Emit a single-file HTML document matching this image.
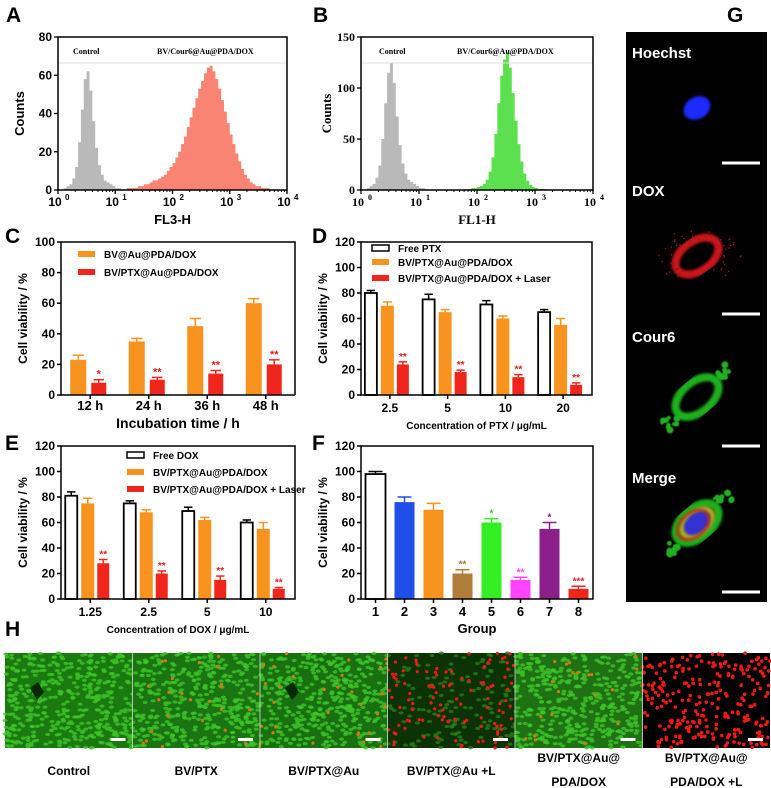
<!DOCTYPE html>
<html><head><meta charset="utf-8">
<style>
html,body{margin:0;padding:0;background:#fff;}
svg{display:block;font-family:"Liberation Sans",Arial,sans-serif;}
</style></head>
<body>
<svg id="fig" width="771" height="788" viewBox="0 0 771 788">
<defs>
<filter id="blur1"><feGaussianBlur stdDeviation="1.2"/></filter>
<filter id="blur2"><feGaussianBlur stdDeviation="0.6"/></filter>
</defs>
</svg>
<script>
// ---------- DATA ----------
const histAGreyStart = 0.1;
const histAGrey = [1,2,3,6,12,25,42,58,62,52,36,22,13,8,5,4,3,2,1,1,0,0,0];
const histARedStart = 1.2;
const histARed = [1,1,1,1,2,2,3,3,4,5,5,6,7,8,10,12,14,17,20,24,28,33,38,43,48,53,57,61,64,65,62,58,53,47,41,35,29,24,19,15,11,8,6,4,3,2,2,1,1,1,0,0,0];
const histBGreyStart = 0.1;
const histBGrey = [2,4,6,12,24,50,85,115,125,105,72,44,26,16,10,8,6,4,2,2,1,0,0];
const histBGreenStart = 1.8;
const histBGreen = [1,1,2,2,3,4,6,10,18,32,55,85,112,128,135,120,95,68,45,28,16,9,5,3,2,1,1,1,0,0,0];
const histBinStep = 0.05;
const logTicks = [0,1,2,3,4];
const histATicks = [0,20,40,60,80];
const histBTicks = [0,50,100,150];

const cCategories = ["12 h","24 h","36 h","48 h"];
const cOrange = [23,35,45,60];
const cOrangeErr = [3,2,5,3];
const cRed = [8,10,14,20];
const cRedErr = [2,1.5,2,3];
const cStars = ["*","**","**","**"];
const cTicks = [0,20,40,60,80,100];

const dCategories = ["2.5","5","10","20"];
const dWhite = [80,75,71,65];
const dWhiteErr = [2,4,3,2];
const dOrange = [70,65,60,55];
const dOrangeErr = [3,2,2,5];
const dRed = [24,18,14,8];
const dRedErr = [2,1.5,2,1.5];
const dStars = ["**","**","**","**"];

const eCategories = ["1.25","2.5","5","10"];
const eWhite = [81,75,69,60];
const eWhiteErr = [3,2,3,2];
const eOrange = [75,68,62,55];
const eOrangeErr = [4,2,2,5];
const eRed = [28,20,15,8];
const eRedErr = [3,2,3,1];
const eStars = ["**","**","**","**"];
const viabTicks = [0,20,40,60,80,100,120];

const fCategories = ["1","2","3","4","5","6","7","8"];
const fValues = [98,76,70,20,60,15,55,8];
const fErr = [2,4,5,3,3,2,5,2];
const fColors = ["#ffffff","#1f4fe8","#f7931e","#b07d3a","#33ee22","#ff44ff","#8b1f8b","#f0261c"];
const fStars = ["","","","**","*","**","*","***"];
const fStarColors = ["#000","#000","#000","#a07a40","#33cc22","#ee44ee","#8b1f8b","#e0201c"];

const ORANGE="#f7931e", RED="#f0261c";

// ---------- helpers ----------
const svg=document.getElementById('fig');
const NS="http://www.w3.org/2000/svg";
function el(tag,attrs,parent){const e=document.createElementNS(NS,tag);for(const k in attrs)e.setAttribute(k,attrs[k]);(parent||svg).appendChild(e);return e;}
function txt(s,x,y,size,anchor,parent,extra){const e=el('text',Object.assign({x:x,y:y,'font-size':size,'text-anchor':anchor||'start','font-weight':'bold'},extra||{}),parent);e.textContent=s;return e;}
function group(name){const g=el('g',{});return g;}

[["A",6,22],["B",313,22],["G",727,22],["C",5,243],["D",312,243],["E",5,450],["F",312,450],["H",5,636]].forEach(p=>{
  const t=txt(p[0],p[1],p[2],21,'start');
  
  
});

// ---------- histograms ----------
function histPanel(name,L,R,T,B,ymax,yticks,series,xtitle,labels,serif){
  const g=group(name);
  const x=v=>L+(v/4)*(R-L);
  const y=v=>B-(v/ymax)*(B-T);
  series.forEach(s=>{
    let d="M"+x(s.start)+","+B;
    s.vals.forEach((v,i)=>{const x0=x(s.start+i*histBinStep),x1=x(s.start+(i+1)*histBinStep);d+=" L"+x0+","+y(v)+" L"+x1+","+y(v);});
    d+=" L"+x(s.start+s.vals.length*histBinStep)+","+B+" Z";
    const p=el('path',{d:d,fill:s.color,stroke:'none'},g);
    
    
  });
  el('line',{x1:L,x2:R,y1:63,y2:63,stroke:'#ddd','stroke-width':1},g);
  el('rect',{x:L,y:T,width:R-L,height:B-T,fill:'none',stroke:'#000','stroke-width':1.5},g);
  const ff=serif?{'font-family':'"Liberation Serif",serif'}:{};
  yticks.forEach(v=>{el('line',{x1:L-4,x2:L,y1:y(v),y2:y(v),stroke:'#000','stroke-width':1.3},g);
    const t=txt(String(v),L-6,y(v)+4,12,'end',g,ff);});
  logTicks.forEach(v=>{el('line',{x1:x(v),x2:x(v),y1:B,y2:B+4,stroke:'#000','stroke-width':1.3},g);
    for(let k=2;k<10&&v<4;k++){const xx=x(v+Math.log10(k));el('line',{x1:xx,x2:xx,y1:B,y2:B+2,stroke:'#000','stroke-width':1},g);}
    const t=txt("10",x(v)-3,B+16,12,'middle',g,ff);
    txt(String(v),x(v)+7,B+10,8,'start',g,ff);});
  const xt=txt(xtitle,(L+R)/2,B+34,13,'middle',g,ff);
  const yt=txt("Counts",0,0,13,'middle',g,Object.assign({transform:`translate(${serif?L-30:L-34},${(T+B)/2}) rotate(-90)`},ff));
  
  labels.forEach(l=>{txt(l[0],l[1],54,8,'start',g,{'font-family':'"Liberation Serif",serif'});});
}
histPanel('histogram-a',58,287,37,190,80,histATicks,[
  {name:'control-histogram',start:histAGreyStart,vals:histAGrey,color:'#b9b9b9'},
  {name:'treated-histogram',start:histARedStart,vals:histARed,color:'#f98474'}],
  "FL3-H",[["Control",73],["BV/Cour6@Au@PDA/DOX",157]],false);
histPanel('histogram-b',361,593,37,190,150,histBTicks,[
  {name:'control-histogram',start:histBGreyStart,vals:histBGrey,color:'#b9b9b9'},
  {name:'treated-histogram',start:histBGreenStart,vals:histBGreen,color:'#5de04f'}],
  "FL1-H",[["Control",379],["BV/Cour6@Au@PDA/DOX",457]],true);

// ---------- bar panels ----------
function barAxes(g,L,R,T,B,ymax,ticks,cats,tickFont,tickDy){
  const y=v=>B-(v/ymax)*(B-T);
  ticks.forEach(v=>{el('line',{x1:L-4,x2:L,y1:y(v),y2:y(v),stroke:'#000','stroke-width':1.5},g);
    const t=txt(String(v),L-6,y(v)+4,12,'end',g);});
  const gw=(R-L)/cats.length;
  cats.forEach((c,i)=>{const cx=L+gw*(i+0.5);el('line',{x1:cx,x2:cx,y1:B,y2:B+4,stroke:'#000','stroke-width':1.5},g);
    const t=txt(c,cx,B+tickDy,tickFont,'middle',g);});
  const yt=txt("Cell viability / %",0,0,12,'middle',g,{transform:`translate(${L-34},${(T+B)/2}) rotate(-90)`});
  
  return {y:y,gw:gw};
}
function bar(g,name,x,w,v,err,color,yf,B,stroke){
  const r=el('rect',{x:x,y:yf(v),width:w,height:B-yf(v),fill:color,stroke:stroke||'none','stroke-width':1.8},g);
  
  const ec=stroke?'#000':color;
  el('line',{x1:x+w/2,x2:x+w/2,y1:yf(v),y2:yf(v+err),stroke:ec,'stroke-width':1.5},g);
  el('line',{x1:x+w/2-w*0.35,x2:x+w/2+w*0.35,y1:yf(v+err),y2:yf(v+err),stroke:ec,'stroke-width':1.5},g);
}
function legend(g,items,x,ys){
  items.forEach((it,i)=>{
    const r=el('rect',{x:x,y:ys[i]-3,width:17,height:6,fill:it[1],stroke:it[2]||'none','stroke-width':1.5},g);
    
    const t=txt(it[0],x+26,ys[i]+4,10,'start',g);
  });
}

(function(){
  const g=group('chart-c');const L=61,R=295,T=242,B=395;
  const a=barAxes(g,L,R,T,B,100,cTicks,cCategories,13,15);
  cCategories.forEach((c,i)=>{const cx=L+a.gw*(i+0.5);
    bar(g,'bar-orange-'+i,cx-20,16,cOrange[i],cOrangeErr[i],ORANGE,a.y,B);
    bar(g,'bar-red-'+i,cx+1,15,cRed[i],cRedErr[i],RED,a.y,B);
    txt(cStars[i],cx+8.5,a.y(cRed[i]+cRedErr[i])-2,11,'middle',g,{fill:'#e0201c'});});
  el('path',{d:`M${L},${T} L${R},${T} L${R},${B} M${L},${T} L${L},${B} L${R},${B}`,fill:'none',stroke:'#000','stroke-width':1.5},g);
  const xt=txt("Incubation time / h",(L+R)/2,B+33,14,'middle',g);
  legend(g,[["BV@Au@PDA/DOX",ORANGE],["BV/PTX@Au@PDA/DOX",RED]],78,[254,272]);
})();

function threeBar(name,L,R,T,B,cats,w,we,o,oe,r,re,stars,xtitle,legendItems,lx,lys){
  const g=group(name);
  const a=barAxes(g,L,R,T,B,120,viabTicks,cats,12,17);
  cats.forEach((c,i)=>{const cx=L+a.gw*(i+0.5);
    bar(g,'bar-free-'+i,cx-25,12,w[i],we[i],'#fff',a.y,B,'#000');
    bar(g,'bar-orange-'+i,cx-9,13,o[i],oe[i],ORANGE,a.y,B);
    bar(g,'bar-red-'+i,cx+7,12,r[i],re[i],RED,a.y,B);
    txt(stars[i],cx+13,a.y(r[i]+re[i])-2,10,'middle',g,{fill:'#e0201c'});});
  el('rect',{x:L,y:T,width:R-L,height:B-T,fill:'none',stroke:'#000','stroke-width':1.5},g);
  const xt=txt(xtitle,(L+R)/2,B+34,10,'middle',g);
  legend(g,legendItems,lx,lys);
}
threeBar('chart-d',361,592,242,395,dCategories,dWhite,dWhiteErr,dOrange,dOrangeErr,dRed,dRedErr,dStars,
  "Concentration of PTX / μg/mL",[["Free PTX","#fff","#000"],["BV/PTX@Au@PDA/DOX",ORANGE],["BV/PTX@Au@PDA/DOX + Laser",RED]],372,[248,262,278]);
threeBar('chart-e',61,295,446,599,eCategories,eWhite,eWhiteErr,eOrange,eOrangeErr,eRed,eRedErr,eStars,
  "Concentration of DOX / μg/mL",[["Free DOX","#fff","#000"],["BV/PTX@Au@PDA/DOX",ORANGE],["BV/PTX@Au@PDA/DOX + Laser",RED]],127,[455,472,489]);

(function(){
  const g=group('chart-f');const L=361,R=593,T=446,B=599;
  const a=barAxes(g,L,R,T,B,120,viabTicks,fCategories,13,17);
  fCategories.forEach((c,i)=>{const cx=L+a.gw*(i+0.5);
    bar(g,'bar-group-'+c,cx-10,20,fValues[i],fErr[i],fColors[i],a.y,B,i===0?'#000':null);
    if(fStars[i])txt(fStars[i],cx,a.y(fValues[i]+fErr[i])-2,10,'middle',g,{fill:fStarColors[i]});});
  el('rect',{x:L,y:T,width:R-L,height:B-T,fill:'none',stroke:'#000','stroke-width':1.5},g);
  const xt=txt("Group",(L+R)/2,B+34,13,'middle',g);
})();

// ---------- Panel G ----------
(function(){
  const g=group('panel-g-microscopy');
  el('rect',{x:626,y:32,width:141,height:570,fill:'#000'},g);
  let seed=7;function rnd(){seed=(seed*16807)%2147483647;return seed/2147483647;}
  const labels=[["Hoechst",52,163],["DOX",190,314],["Cour6",336,446],["Merge",477,592]];
  labels.forEach(l=>{const t=txt(l[0],632,l[1]+6,15,'start',g,{fill:'#fff'});
    el('rect',{x:722,y:l[2]-1.5,width:38,height:3,fill:'#fff'},g);});
  el('ellipse',{cx:697,cy:108,rx:14,ry:11,fill:'#1a2cff',transform:'rotate(-30 697 108)',filter:'url(#blur1)'},g);
  const dx=697,dy=256;
  el('ellipse',{cx:dx,cy:dy,rx:24,ry:15,fill:'none',stroke:'#c8141c','stroke-width':8,transform:`rotate(-35 ${dx} ${dy})`,filter:'url(#blur1)'},g);
  for(let i=0;i<60;i++){const a=rnd()*6.28,r=18+rnd()*20;el('circle',{cx:dx+Math.cos(a)*r*1.2,cy:dy+Math.sin(a)*r*0.7,r:0.8,fill:'#a01010'},g);}
  function greenCell(cx,cy){
    el('ellipse',{cx:cx,cy:cy,rx:25,ry:15,fill:'none',stroke:'#1fb01f','stroke-width':8,transform:`rotate(-40 ${cx} ${cy})`,filter:'url(#blur1)'},g);
    for(let i=0;i<20;i++){const t=rnd()*2-1,s=rnd()<0.5?1:-1;const d=30+rnd()*14;
      el('circle',{cx:cx+t*6+s*d*0.72,cy:cy+t*4-s*d*0.68,r:1.5+rnd()*2,fill:'#22b022',filter:'url(#blur2)'},g);}
  }
  greenCell(697,397);
  greenCell(697,523);
  el('ellipse',{cx:697,cy:523,rx:21,ry:13,fill:'#b0a820',transform:'rotate(-40 697 523)',filter:'url(#blur1)'},g);
  el('ellipse',{cx:697,cy:523,rx:15,ry:10,fill:'#3030d0',transform:'rotate(-40 697 523)',filter:'url(#blur1)'},g);
  el('ellipse',{cx:693,cy:525,rx:18,ry:12,fill:'none',stroke:'#c02a10','stroke-width':2.5,transform:'rotate(-40 693 525)',filter:'url(#blur1)'},g);
})();

// ---------- Panel H ----------
(function(){
  const g=group('panel-h-live-dead');
  const L=5,W=127.5,T=653,H=95;
  const names=[["Control"],["BV/PTX"],["BV/PTX@Au"],["BV/PTX@Au +L"],["BV/PTX@Au@","PDA/DOX"],["BV/PTX@Au@","PDA/DOX +L"]];
  const bgs=["#1a7a10","#1a7412","#197011","#0b3306","#1f7213","#000000"];
  const greenN=[420,400,400,150,400,0], redN=[0,25,30,110,20,260];
  let seed=13;function rnd(){seed=(seed*16807)%2147483647;return seed/2147483647;}
  names.forEach((n,i)=>{
    const x0=L+i*W;
    const sub=el('g',{},g);
    el('rect',{x:x0,y:T,width:W,height:H,fill:bgs[i]},sub);
    for(let k=0;k<greenN[i];k++)el('ellipse',{cx:x0+rnd()*W,cy:T+rnd()*H,rx:2.5,ry:1.6,fill:i===3?'#2a7a18':'#3fc42a',opacity:0.8},sub);
    if(i===0||i===2){el('path',{d:`M${x0+25},${T+35} l8,-6 l6,10 l-7,8 z`,fill:'#062a04'},sub);}
    for(let k=0;k<redN[i];k++)el('circle',{cx:x0+rnd()*W,cy:T+rnd()*H,r:i===5?1.8:1.6,fill:i<3||i===4?'#d07a1a':'#f01a14'},sub);
    el('rect',{x:x0+W-22,y:T+H-10,width:15,height:3,fill:'#fff'},sub);
    const cx=x0+W/2;
    if(n.length===1){const t=txt(n[0],cx,775,12,'middle',g);}
    else{const t=txt(n[0],cx,762,12,'middle',g);
         const t2=txt(n[1],cx,786,12,'middle',g);}
  });
  for(let i=1;i<6;i++)el('line',{x1:L+i*W,x2:L+i*W,y1:T,y2:T+H,stroke:'#ddd','stroke-width':0.8},g);
})();
</script>
</body></html>
